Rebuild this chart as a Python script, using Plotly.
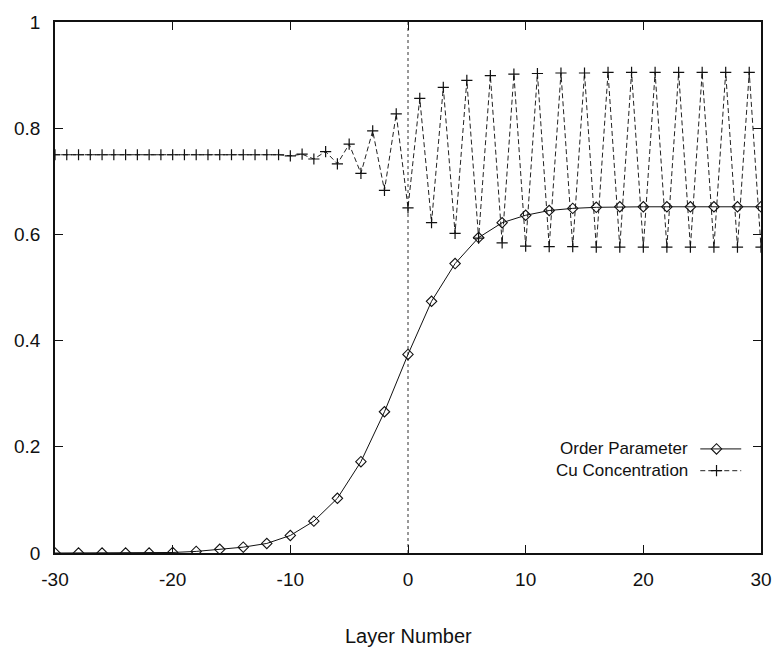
import plotly.graph_objects as go

# ---- data ----
layers_op = list(range(-30, 31, 2))
order_param = [0.000, 0.000, 0.000, 0.000, 0.000, 0.001, 0.003, 0.007, 0.011, 0.018,
               0.033, 0.060, 0.103, 0.172, 0.266, 0.374, 0.474, 0.545, 0.594, 0.622,
               0.636, 0.645, 0.649, 0.651, 0.652, 0.652, 0.652, 0.652, 0.652, 0.652, 0.652]

layers_cu = list(range(-30, 31))
cu_conc = [0.750] * 19 + [
    0.750, 0.748, 0.751, 0.742, 0.756, 0.733, 0.770, 0.715, 0.795, 0.683, 0.827,   # -11..-1
    0.650, 0.856, 0.622, 0.877, 0.602, 0.890, 0.593, 0.899, 0.584, 0.902,          # 0..9
    0.578, 0.903, 0.577, 0.904, 0.577, 0.904, 0.576, 0.905, 0.576, 0.905,          # 10..19
    0.576, 0.905, 0.576, 0.905, 0.576, 0.905, 0.576, 0.905, 0.576, 0.905, 0.576]   # 20..30

x_ticks = [-30, -20, -10, 0, 10, 20, 30]
x_tick_text = ["-30", "-20", "-10", "0", "10", "20", "30"]
y_ticks = [0, 0.2, 0.4, 0.6, 0.8, 1]
y_tick_text = ["0", "0.2", "0.4", "0.6", "0.8", "1"]
legend_names = ["Order Parameter", "Cu Concentration"]

FONT = "Liberation Sans, Arial, Helvetica, sans-serif"

fig = go.Figure()

fig.add_trace(go.Scatter(
    x=layers_cu, y=cu_conc, mode="lines+markers", name=legend_names[1],
    line=dict(color="#222", width=1, dash="5px,3px"),
    marker=dict(symbol="cross-thin", size=8, line=dict(color="#111", width=1.2)),
    showlegend=False))

fig.add_trace(go.Scatter(
    x=layers_op, y=order_param, mode="lines+markers", name=legend_names[0],
    line=dict(color="#111", width=1),
    marker=dict(symbol="diamond-open", size=8, color="#111", line=dict(width=1.1)),
    showlegend=False))

# legend samples (overlay axis in plot-fraction units)
leg_y = [0.196, 0.155]
fig.add_trace(go.Scatter(x=[0.914, 0.972], y=[leg_y[0]] * 2, mode="lines",
                         line=dict(color="#111", width=1), xaxis="x2", yaxis="y2", showlegend=False))
fig.add_trace(go.Scatter(x=[0.937], y=[leg_y[0]], mode="markers",
                         marker=dict(symbol="diamond-open", size=8, color="#111", line=dict(width=1.1)),
                         xaxis="x2", yaxis="y2", showlegend=False))
fig.add_trace(go.Scatter(x=[0.914, 0.972], y=[leg_y[1]] * 2, mode="lines",
                         line=dict(color="#222", width=1, dash="5px,3px"), xaxis="x2", yaxis="y2", showlegend=False))
fig.add_trace(go.Scatter(x=[0.937], y=[leg_y[1]], mode="markers",
                         marker=dict(symbol="cross-thin", size=8, line=dict(color="#111", width=1.2)),
                         xaxis="x2", yaxis="y2", showlegend=False))

for name, yy in zip(legend_names, leg_y):
    fig.add_annotation(x=0.899, y=yy, xref="x2", yref="y2", text=name, showarrow=False,
                       xanchor="right", yanchor="middle", font=dict(family=FONT, size=17, color="#111"))

# zero axis (dotted)
fig.add_shape(type="line", x0=0, x1=0, y0=0, y1=1, xref="x", yref="y",
              line=dict(color="#333", width=1, dash="dot"), layer="below")

fig.add_annotation(x=0.5, y=-0.157, xref="paper", yref="paper", text="Layer Number",
                   showarrow=False, xanchor="center", yanchor="middle",
                   font=dict(family=FONT, size=20, color="#111"))

fig.update_layout(
    width=784, height=650,
    margin=dict(l=55, r=17, t=18, b=97),
    paper_bgcolor="white", plot_bgcolor="white",
    font=dict(family=FONT, size=19, color="#111"),
    xaxis=dict(range=[-30, 30], tickvals=x_ticks, ticktext=x_tick_text, ticks="inside", ticklen=8,
               tickwidth=1.3, tickcolor="#111", mirror="ticks", showline=True, linecolor="#111",
               linewidth=1.5, showgrid=False, zeroline=False, ticklabelstandoff=8,
               tickfont=dict(family=FONT, size=19, color="#111")),
    yaxis=dict(range=[0, 1], tickvals=y_ticks, ticktext=y_tick_text, ticks="inside", ticklen=8,
               tickwidth=1.3, tickcolor="#111", mirror="ticks", showline=True, linecolor="#111",
               linewidth=1.5, showgrid=False, zeroline=False, ticklabelstandoff=9,
               tickfont=dict(family=FONT, size=19, color="#111")),
    xaxis2=dict(range=[0, 1], overlaying="x", visible=False),
    yaxis2=dict(range=[0, 1], overlaying="y", visible=False),
)

fig.write_html("out.html")
